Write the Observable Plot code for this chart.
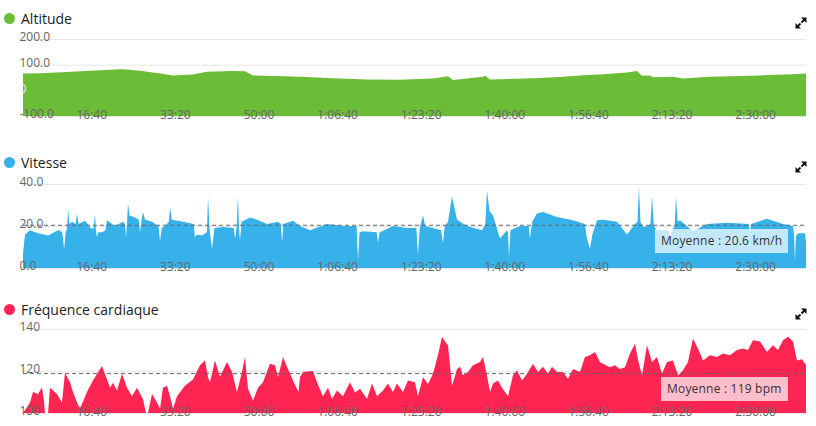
<!DOCTYPE html>
<html><head><meta charset="utf-8">
<script src="https://cdn.jsdelivr.net/npm/d3@7"></script>
<script src="https://cdn.jsdelivr.net/npm/@observablehq/plot@0.6"></script>
<style>
body{margin:0;width:816px;height:426px;position:relative;font-family:"Open Sans",sans-serif;background:#fff;overflow:hidden}
.title{position:absolute;left:4px;height:20px;font-size:14px;color:#222;display:flex;align-items:center;white-space:nowrap}
.dot{width:11px;height:11px;border-radius:50%;margin-right:6px;flex:none}
.panel{position:absolute;left:0}
.icon{position:absolute;left:795px;width:12px;height:12px}
.badge{position:absolute;font-size:12px;color:#333;padding:0 6px;height:24px;line-height:24px;white-space:nowrap;letter-spacing:0.2px}
</style></head><body>
<script>
// ---- data (seconds, value) ----
const altitude = [[0,66],[203,67],[526,71],[921,78],[1160,82],[1244,81],[1399,76],[1639,66],[1794,58],[2033,62],[2201,72],[2512,75],[2655,74],[2751,58],[3110,55],[3313,53],[3708,47],[4114,42],[4509,41],[4904,46],[5083,55],[5143,40],[5502,53],[5526,57],[5586,42],[6100,47],[6423,52],[6745,60],[6901,62],[7224,69],[7343,75],[7403,57],[7499,58],[7535,51],[7774,53],[7894,46],[8217,53],[8815,58],[9209,63],[9365,66]];

const speed = [[0,7],[24,16],[84,18],[180,16.5],[300,15.5],[420,18],[470,17],[492,9],[510,17],[526,18.7],[540,28],[556,21],[586,22],[630,21],[646,26],[665,21],[741,22.5],[810,19],[825,18.7],[845,19],[861,26],[872,18],[885,14.7],[900,17],[945,17],[985,18],[1005,22.7],[1100,20],[1196,22],[1220,21],[1232,14.7],[1245,22],[1256,30.7],[1275,25],[1340,24],[1385,23],[1399,17],[1415,22],[1435,26.7],[1460,23],[1543,22],[1620,20],[1639,13],[1660,19],[1698,20],[1745,22],[1758,29],[1780,23],[1914,22],[2040,21],[2057,14.7],[2080,16],[2141,15.5],[2200,17],[2213,34],[2230,19],[2260,9],[2290,19],[2392,19.5],[2520,19],[2536,14],[2555,19],[2571,34],[2585,18],[2595,13],[2615,22],[2715,24],[2800,23],[2918,21],[3050,22],[3085,21],[3098,12],[3115,21],[3229,22.5],[3313,20],[3433,18],[3636,21],[3851,20],[3990,20],[4007,3.5],[4025,17],[4066,17.5],[4230,17],[4246,12],[4265,17],[4294,17.5],[4425,20],[4593,19],[4705,19],[4724,6],[4745,19],[4784,25],[4810,20],[4904,19],[5000,18],[5023,12],[5045,20],[5083,22],[5131,34],[5191,23],[5310,20],[5490,18],[5530,21],[5549,37],[5580,27],[5621,25],[5705,14],[5789,18],[5800,17],[5813,5],[5830,18],[5944,20],[6050,20],[6064,14],[6090,22],[6147,26],[6219,26.7],[6387,24.3],[6578,22.7],[6720,21],[6745,14],[6781,9],[6810,16],[6865,22.7],[6937,23],[7104,22],[7224,16],[7320,21],[7350,22],[7367,38.7],[7385,22],[7415,19.5],[7475,20],[7505,21],[7523,34.7],[7545,20],[7583,18],[7720,18],[7738,14],[7760,18],[7795,20],[7810,34],[7830,22],[7858,22.7],[8013,17.5],[8181,21],[8420,21.5],[8680,21],[8695,17],[8710,21],[8898,23.5],[9090,21],[9209,20],[9222,16],[9233,3.5],[9245,15],[9269,16.5],[9353,16.5],[9365,12]];

const heartRate = [[0,100],[84,105],[120,110],[180,109],[227,112.3],[250,106],[263,100],[300,100],[323,112],[407,109],[466,105],[502,119],[562,114.7],[598,110],[646,105],[682,102],[765,110],[837,115.5],[945,122.4],[1005,116],[1041,112],[1076,114.4],[1124,110.7],[1184,118.7],[1244,112],[1304,108],[1363,112],[1435,106.7],[1471,100],[1495,100],[1543,109],[1603,105],[1639,102],[1674,112],[1722,113],[1758,108],[1794,102],[1842,108],[1937,113],[2033,116],[2117,122.7],[2177,125],[2213,117],[2237,114.7],[2296,125],[2356,117.3],[2440,124.3],[2500,119.5],[2559,110],[2619,119.5],[2655,126.7],[2691,111.5],[2751,106],[2811,112],[2870,114.7],[2954,123.5],[3014,122.7],[3050,117],[3110,126.7],[3169,121],[3229,115.5],[3270,112],[3295,110],[3313,117],[3349,119.5],[3468,120],[3516,114.7],[3588,108],[3648,112],[3696,106.7],[3755,110.7],[3827,108],[3911,114.7],[3971,109.8],[4031,111.5],[4114,106.7],[4174,114],[4234,108],[4306,110.7],[4365,114],[4425,110],[4473,114],[4545,110],[4605,115.5],[4688,114.7],[4724,108],[4784,117],[4844,113.8],[4904,118.7],[4963,127.5],[5011,136.3],[5047,134],[5083,132.3],[5131,113],[5191,121],[5227,122],[5262,118],[5322,119.5],[5382,122.7],[5466,124.3],[5502,126.7],[5549,118],[5586,110],[5621,114],[5681,115.5],[5729,112],[5801,108],[5860,117.8],[5908,120.3],[5968,115.5],[6028,118.7],[6100,123.5],[6159,119.5],[6219,122],[6279,118.7],[6327,122],[6387,119.5],[6458,119.5],[6518,116.3],[6578,121],[6662,119.5],[6721,126.7],[6781,127.5],[6841,129],[6901,124.3],[6937,123.5],[7020,121.8],[7080,122.7],[7140,121],[7200,121.8],[7260,128.3],[7320,133],[7355,125.6],[7403,117.8],[7463,132.3],[7523,124.3],[7583,126.7],[7642,118.7],[7702,124.3],[7774,125],[7834,117.8],[7894,120.3],[7953,124.3],[8013,135.5],[8073,130.7],[8133,125],[8217,127.5],[8300,126.7],[8372,128.3],[8456,127.5],[8539,130],[8611,130.7],[8671,130],[8731,134.7],[8815,134],[8898,129],[8970,132.3],[9030,130],[9090,134.7],[9150,136.3],[9209,134],[9257,125],[9317,125.6],[9353,123.5],[9365,123]];

const xTicks = [1000,2000,3000,4000,5000,6000,7000,8000,9000];
const altTicks = [-100,0,100,200], altTickLabels = ["-100.0","0","100.0","200.0"];
const speedTicks = [0,20,40], speedTickLabels = ["0.0","20.0","40.0"];
const hrTicks = [100,120,140], hrTickLabels = ["100","120","140"];
const titles = ["Altitude","Vitesse","Fréquence cardiaque"];
const colors = ["#6bbc36","#36b1ea","#ff2552"];
const speedMean = 20.6, hrMean = 119;
const meanLabels = [null,"Moyenne : 20.6 km/h","Moyenne : 119 bpm"];

function fmtTime(s){
  const h = Math.floor(s/3600), m = Math.floor((s%3600)/60), sec = s%60;
  const p = v => String(v).padStart(2,"0");
  return h > 0 ? `${h}:${p(m)}:${p(sec)}` : `${p(m)}:${p(sec)}`;
}

const panels = [
  {data: altitude, domain:[-100,200], ticks: altTicks, labels: altTickLabels, light: [0], mean: null, titleTop: 8, svgTop: 29, plotH: 77},
  {data: speed, domain:[0,40], ticks: speedTicks, labels: speedTickLabels, light: [], mean: speedMean, titleTop: 152, svgTop: 174, plotH: 84},
  {data: heartRate, domain:[100,140], ticks: hrTicks, labels: hrTickLabels, light: [], mean: hrMean, titleTop: 299, svgTop: 319, plotH: 84}
];

const iconSVG = `<svg viewBox="0 0 12 12" width="12" height="12"><polygon points="6,0.5 11.5,0.5 11.5,6" fill="#111"/><line x1="6.5" y1="5.5" x2="10" y2="2" stroke="#111" stroke-width="2"/><polygon points="0.5,6 0.5,11.5 6,11.5" fill="#111"/><line x1="5.5" y1="6.5" x2="2" y2="10" stroke="#111" stroke-width="2"/></svg>`;

panels.forEach((p, i) => {
  const t = document.createElement("div");
  t.className = "title";
  t.style.top = p.titleTop + "px";
  t.innerHTML = `<span class="dot" style="background:${colors[i]}"></span><span>${titles[i]}</span>`;
  document.body.appendChild(t);

  const ic = document.createElement("div");
  ic.className = "icon";
  ic.style.top = (p.titleTop + 4) + "px";
  ic.innerHTML = iconSVG;
  document.body.appendChild(ic);

  const base = p.domain[0];
  const fmtY = d => p.labels[p.ticks.indexOf(d)];
  const yAxisOpts = {anchor: "left", tickSize: 0, textAnchor: "start", dx: 5, dy: -2, tickFormat: fmtY};
  const chart = Plot.plot({
    width: 816,
    height: 10 + p.plotH + 2,
    marginTop: 10, marginBottom: 2, marginLeft: 23, marginRight: 10,
    x: {domain: [0, 9365]},
    y: {domain: p.domain},
    style: {fontFamily: "Open Sans", fontSize: "12px", color: "#666", background: "transparent", overflow: "visible"},
    marks: [
      Plot.gridY(p.ticks, {stroke: "#e6e6e6", strokeOpacity: 1}),
      Plot.areaY(p.data, {x: d => d[0], y1: d => base, y2: d => d[1], fill: colors[i], fillOpacity: 1}),
      p.mean != null ? Plot.ruleY([p.mean], {stroke: "#666", strokeWidth: 1, strokeDasharray: "4,3"}) : null,
      Plot.axisY(p.ticks.filter(d => !p.light.includes(d)), {...yAxisOpts, fill: "#666"}),
      p.light.length ? Plot.axisY(p.light, {...yAxisOpts, fill: "#f2f2f2"}) : null,
      Plot.axisX(xTicks, {anchor: "bottom", tickSize: 0, textAnchor: "end", dy: -15, tickFormat: fmtTime, fill: "#666"})
    ]
  });
  const wrap = document.createElement("div");
  wrap.className = "panel";
  wrap.style.top = p.svgTop + "px";
  wrap.appendChild(chart);
  document.body.appendChild(wrap);

  if (p.mean != null) {
    const yPix = chart.scale("y").apply(p.mean);
    const b = document.createElement("div");
    b.className = "badge";
    b.style.background = "rgba(255,255,255,0.7)";
    b.textContent = meanLabels[i];
    document.body.appendChild(b);
    b.style.top = (p.svgTop + yPix + 4) + "px";
    b.style.left = (788 - b.offsetWidth) + "px";
  }
});
</script>
</body></html>
